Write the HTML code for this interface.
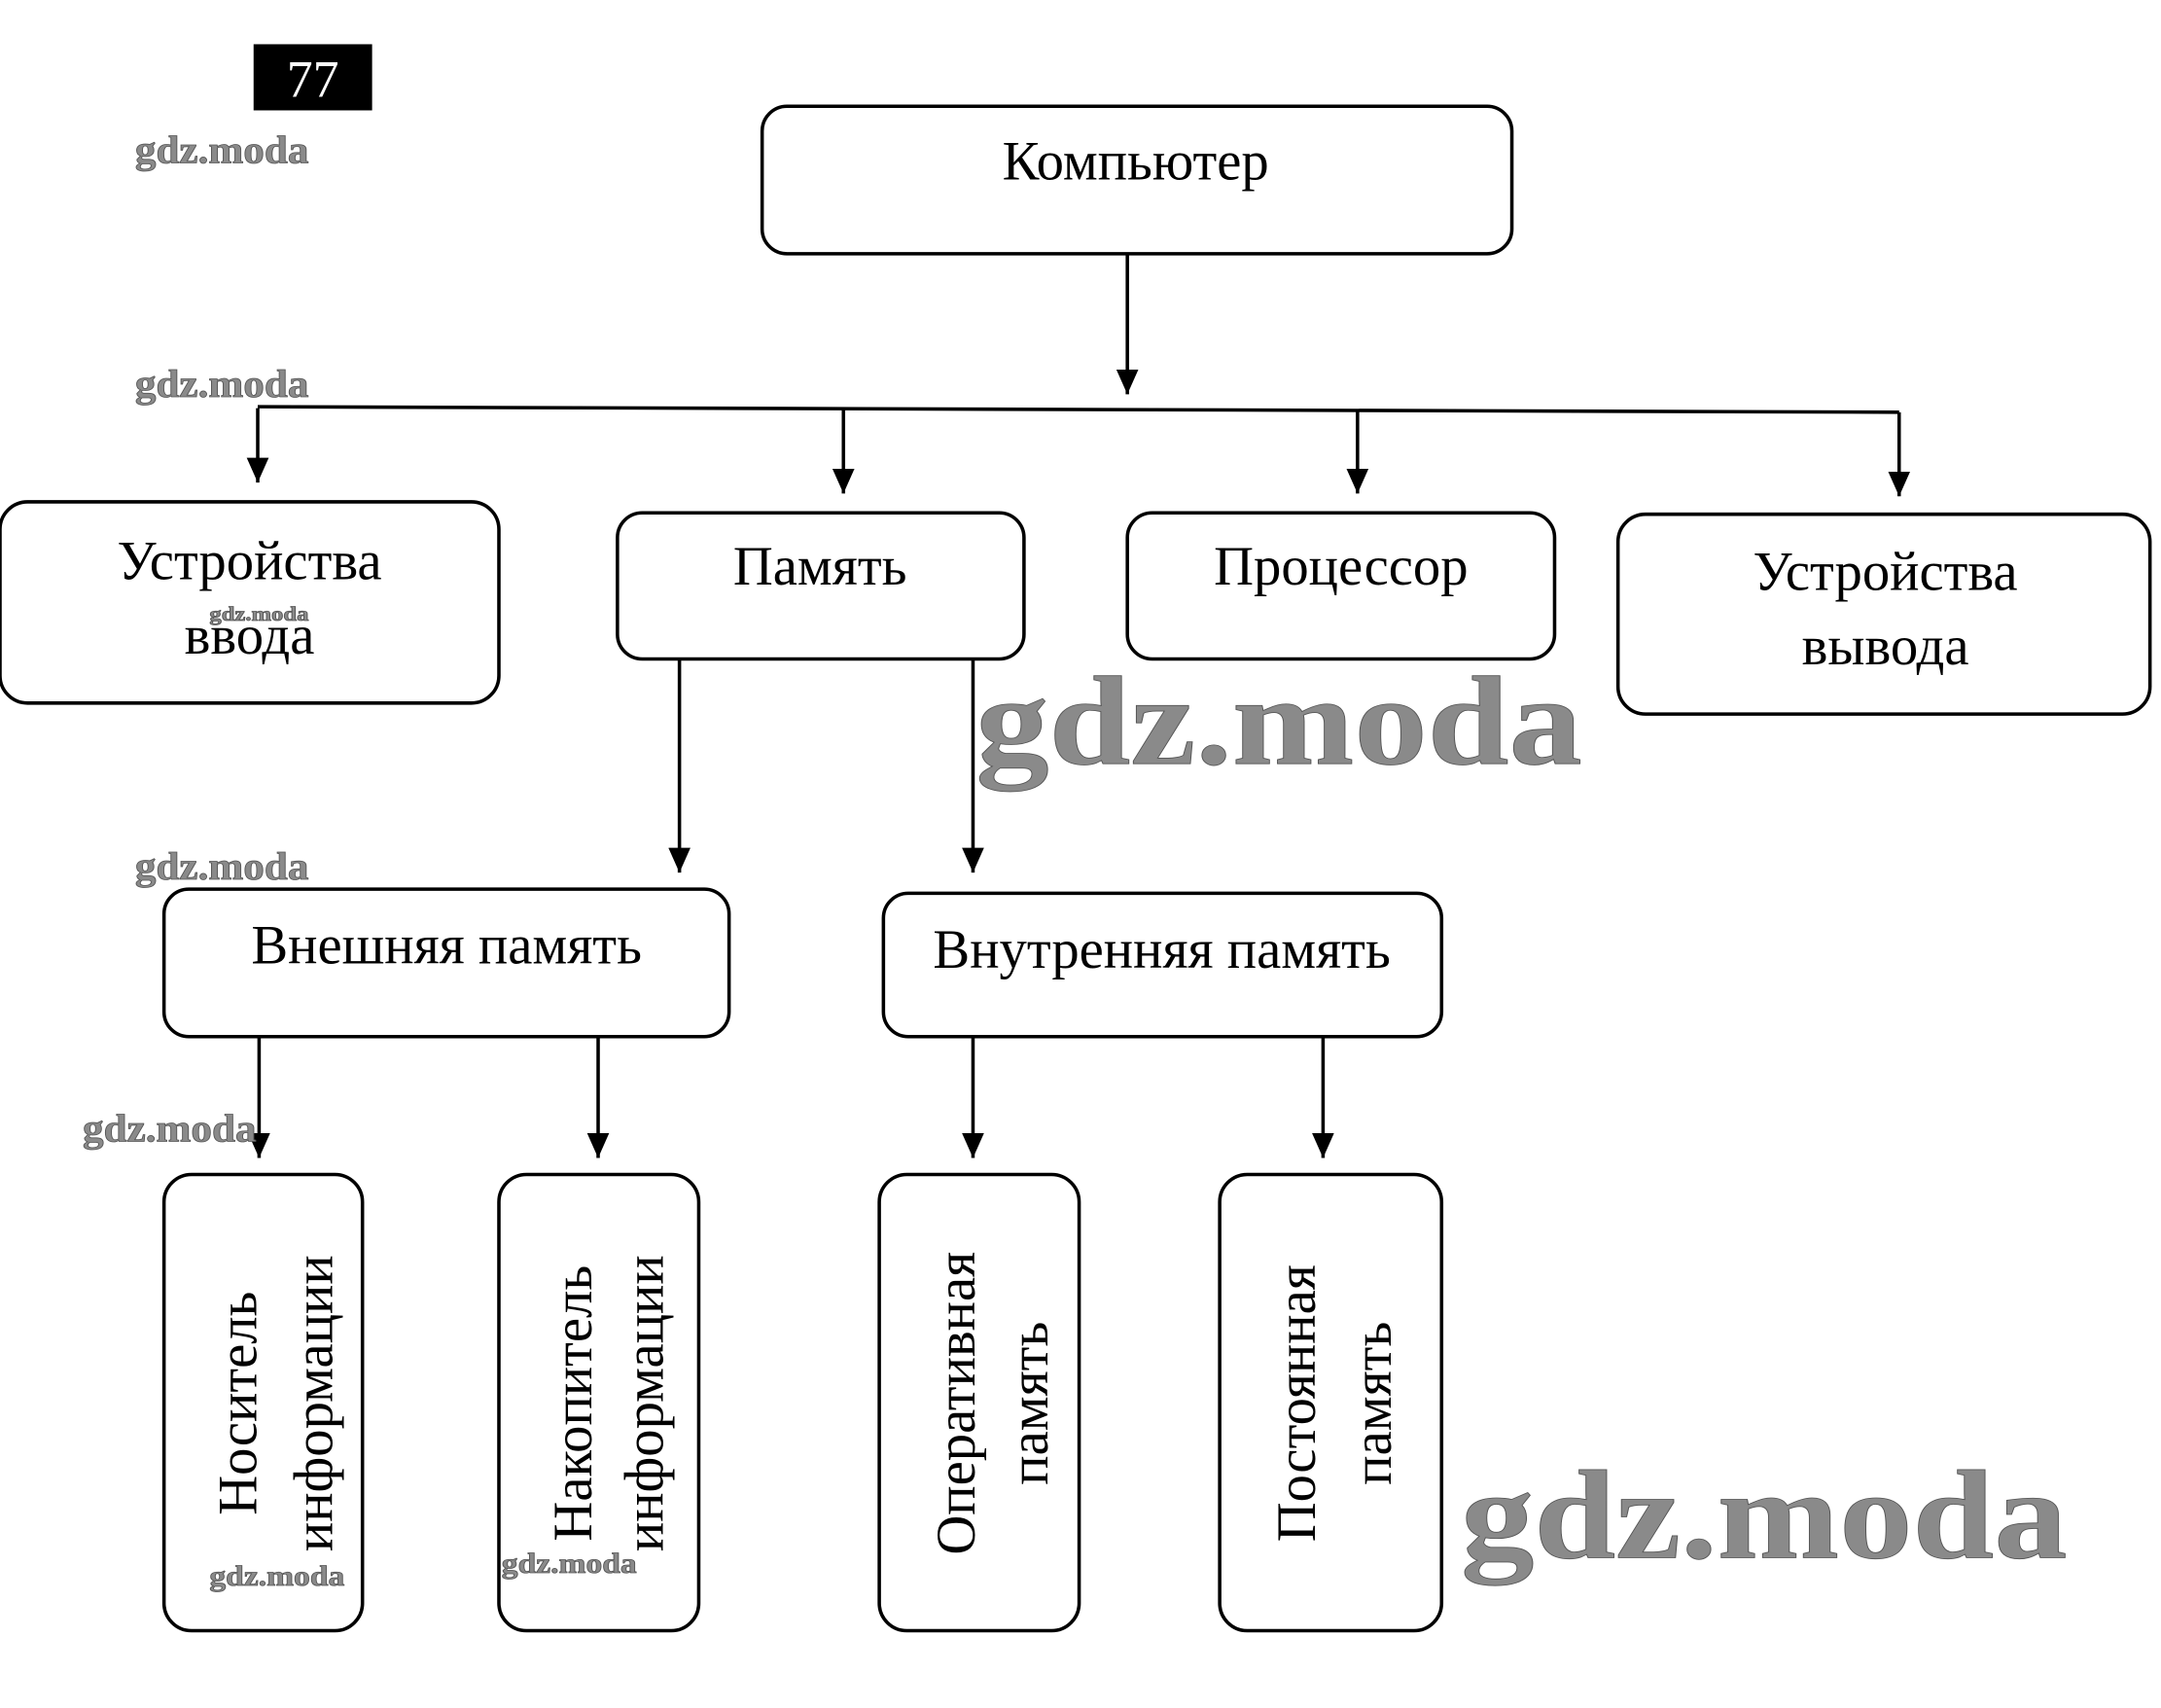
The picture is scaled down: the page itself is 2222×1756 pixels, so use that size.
<!DOCTYPE html>
<html><head><meta charset="utf-8"><style>
html,body{margin:0;padding:0;background:#fff;}
svg{display:block;}
text{font-family:"Liberation Serif",serif;fill:#000;}
.wm text{font-family:"Liberation Serif",serif;font-weight:bold;fill:#8a8a8a;stroke:#555;stroke-width:0.6;}
</style></head><body>
<svg width="2222" height="1756" viewBox="0 0 1568 1239" xmlns="http://www.w3.org/2000/svg">
<defs>
<marker id="b" viewBox="0 0 10 10" markerWidth="16" markerHeight="18" refX="5" refY="10" orient="0" markerUnits="userSpaceOnUse" preserveAspectRatio="none"><path d="M0,0 L10,0 L5,10 z" fill="#000"/></marker></defs>
<rect x="184" y="32" width="86" height="48" fill="#000"/>
<text x="227" y="70" font-size="38" text-anchor="middle" style="fill:#fff">77</text>
<g fill="none" stroke="#000" stroke-width="2.5">
<rect x="553" y="77" width="544" height="107" rx="18"/>
<rect x="0" y="364" width="362" height="146" rx="20"/>
<rect x="448" y="372" width="295" height="106" rx="18"/>
<rect x="818" y="372" width="310" height="106" rx="18"/>
<rect x="1174" y="373" width="386" height="145" rx="20"/>
<rect x="119" y="645" width="410" height="107" rx="18"/>
<rect x="641" y="648" width="405" height="104" rx="18"/>
<rect x="119" y="852" width="144" height="331" rx="20"/>
<rect x="362" y="852" width="145" height="331" rx="20"/>
<rect x="638" y="852" width="145" height="331" rx="20"/>
<rect x="885" y="852" width="161" height="331" rx="20"/>
<line x1="187" y1="295" x2="1378" y2="299"/>
</g>
<g stroke="#000" stroke-width="2.5" marker-end="url(#b)">
<line x1="818" y1="184" x2="818" y2="286"/>
<line x1="187" y1="296" x2="187" y2="350"/>
<line x1="612" y1="297" x2="612" y2="358"/>
<line x1="985" y1="298" x2="985" y2="358"/>
<line x1="1378" y1="299" x2="1378" y2="360"/>
<line x1="493" y1="478" x2="493" y2="633"/>
<line x1="706" y1="478" x2="706" y2="633"/>
<line x1="188" y1="752" x2="188" y2="840"/>
<line x1="434" y1="752" x2="434" y2="840"/>
<line x1="706" y1="752" x2="706" y2="840"/>
<line x1="960" y1="752" x2="960" y2="840"/>
</g>
<g font-size="40" text-anchor="middle">
<text x="824" y="130">Компьютер</text>
<text x="181" y="420">Устройства</text>
<text x="181" y="474">ввода</text>
<text x="595" y="424">Память</text>
<text x="973" y="424">Процессор</text>
<text x="1368" y="428">Устройства</text>
<text x="1368" y="482">вывода</text>
<text x="324" y="699">Внешняя память</text>
<text x="843" y="702">Внутренняя память</text>
<text transform="translate(186,1018) rotate(-90)">Носитель</text>
<text transform="translate(241,1018) rotate(-90)">информации</text>
<text transform="translate(429,1018) rotate(-90)">Накопитель</text>
<text transform="translate(481,1018) rotate(-90)">информации</text>
<text transform="translate(707,1018) rotate(-90)">Оперативная</text>
<text transform="translate(760,1018) rotate(-90)">память</text>
<text transform="translate(954,1018) rotate(-90)">Постоянная</text>
<text transform="translate(1009,1018) rotate(-90)">память</text>
</g>
<g class="wm">
<text x="98" y="118" font-size="28" textLength="126" lengthAdjust="spacingAndGlyphs">gdz.moda</text>
<text x="98" y="288" font-size="28" textLength="126" lengthAdjust="spacingAndGlyphs">gdz.moda</text>
<text x="98" y="638" font-size="28" textLength="126" lengthAdjust="spacingAndGlyphs">gdz.moda</text>
<text x="60" y="828" font-size="28" textLength="126" lengthAdjust="spacingAndGlyphs">gdz.moda</text>
<text x="152" y="450" font-size="15" textLength="72" lengthAdjust="spacingAndGlyphs">gdz.moda</text>
<text x="152" y="1150" font-size="21" textLength="98" lengthAdjust="spacingAndGlyphs">gdz.moda</text>
<text x="364" y="1141" font-size="21" textLength="98" lengthAdjust="spacingAndGlyphs">gdz.moda</text>
<text x="708" y="554" font-size="92" textLength="440" lengthAdjust="spacingAndGlyphs">gdz.moda</text>
<text x="1060" y="1130" font-size="92" textLength="440" lengthAdjust="spacingAndGlyphs">gdz.moda</text>
</g>
</svg>
</body></html>
